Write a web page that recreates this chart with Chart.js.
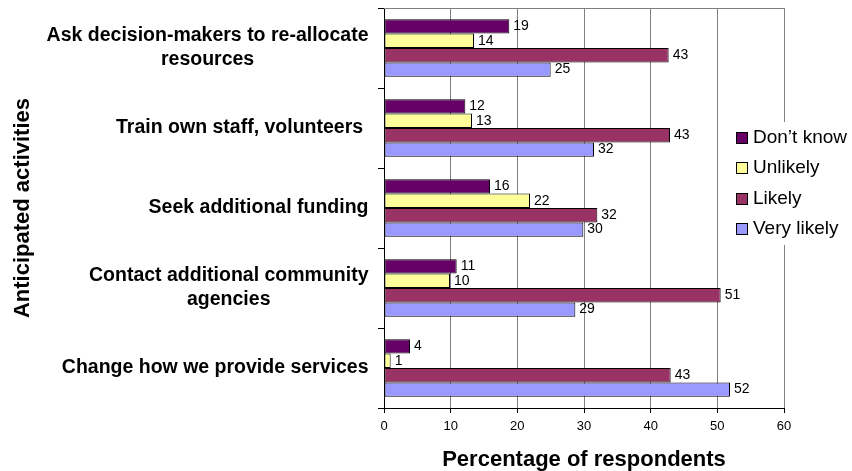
<!DOCTYPE html>
<html>
<head>
<meta charset="utf-8">
<script src="https://cdn.jsdelivr.net/npm/chart.js@4"></script>
<style>
  html, body { margin: 0; padding: 0; background: #fff; }
  canvas { display: block; }
</style>
</head>
<body>
<canvas id="chart" width="852" height="471"></canvas>
<script>
// values (bar ends, labels are rounded)
const categories = [
  ["Ask decision-makers to re-allocate", "resources"],
  ["Train own staff, volunteers "],
  ["Seek additional funding"],
  ["Contact additional community", "agencies"],
  ["Change how we provide services"]
];
const seriesNames = ["Don\u2019t know", "Unlikely", "Likely", "Very likely"];
const seriesColors = ["#660066", "#FFFF99", "#993366", "#9999FF"];
const dontKnow   = [18.8, 12.2, 15.9, 10.9, 3.9];
const unlikely   = [13.5, 13.2, 21.9, 9.9, 1.0];
const likely     = [42.7, 42.9, 32.0, 50.5, 43.0];
const veryLikely = [25.0, 31.5, 29.9, 28.7, 51.9];
const xMin = 0, xMax = 60, xStep = 10;

const FONT = "'Liberation Sans', Arial, sans-serif";

// category labels: block centred, widest line right-aligned against the axis
const catLabels = {
  id: "catLabels",
  afterDraw(chart) {
    const ctx = chart.ctx, y = chart.scales.y;
    ctx.save();
    ctx.font = "bold 19.5px " + FONT;
    ctx.fillStyle = "#000";
    ctx.textAlign = "center";
    ctx.textBaseline = "middle";
    const right = chart.chartArea.left - 15.5;
    categories.forEach((lines, i) => {
      const w = Math.max(...lines.map(l => ctx.measureText(l).width));
      const cx = right - w / 2;
      const cy = y.getPixelForValue(i);
      lines.forEach((l, j) => {
        ctx.fillText(l, cx, cy + (j - (lines.length - 1) / 2) * 24);
      });
    });
    ctx.restore();
  }
};

const valueLabels = {
  id: "valueLabels",
  afterDatasetsDraw(chart) {
    const ctx = chart.ctx;
    ctx.save();
    ctx.font = "14px " + FONT;
    ctx.fillStyle = "#000";
    ctx.textAlign = "left";
    ctx.textBaseline = "middle";
    chart.data.datasets.forEach((ds, di) => {
      chart.getDatasetMeta(di).data.forEach((bar, i) => {
        ctx.fillText(String(Math.round(ds.data[i])), bar.x + 4, bar.y);
      });
    });
    ctx.restore();
  }
};

const frame = {
  id: "frame",
  beforeDatasetsDraw(chart) {
    const { ctx, chartArea: a } = chart;
    ctx.save();
    ctx.strokeStyle = "#808080";
    ctx.lineWidth = 1;
    ctx.beginPath();
    ctx.moveTo(a.left, Math.round(a.top) + 0.5);
    ctx.lineTo(a.right, Math.round(a.top) + 0.5);
    ctx.stroke();
    ctx.restore();
  }
};

const axisTitles = {
  id: "axisTitles",
  afterDraw(chart) {
    const { ctx, chartArea: a } = chart;
    ctx.save();
    ctx.font = "bold 22px " + FONT;
    ctx.fillStyle = "#000";
    ctx.textAlign = "center";
    ctx.textBaseline = "alphabetic";
    ctx.fillText("Percentage of respondents", (a.left + a.right) / 2, 466);
    ctx.translate(29, (a.top + a.bottom) / 2);
    ctx.rotate(-Math.PI / 2);
    ctx.fillText("Anticipated activities", 0, 0);
    ctx.restore();
  }
};

// legend sits over the right of the plot on a white patch
const boxLegend = {
  id: "boxLegend",
  afterDraw(chart) {
    const ctx = chart.ctx;
    ctx.save();
    ctx.fillStyle = "#fff";
    ctx.fillRect(728, 122, 124, 123);
    ctx.font = "19px " + FONT;
    ctx.textAlign = "left";
    ctx.textBaseline = "middle";
    chart.data.datasets.forEach((ds, i) => {
      const cy = 137.5 + i * 30.5;
      ctx.fillStyle = ds.backgroundColor;
      ctx.fillRect(736, Math.round(cy - 6), 12, 12);
      ctx.strokeStyle = "#000";
      ctx.lineWidth = 1;
      ctx.strokeRect(736.5, Math.round(cy - 6) + 0.5, 11, 11);
      ctx.fillStyle = "#000";
      ctx.fillText(ds.label, 753, cy);
    });
    ctx.restore();
  }
};

const seriesData = [dontKnow, unlikely, likely, veryLikely];

new Chart(document.getElementById("chart"), {
  type: "bar",
  data: {
    labels: categories,
    datasets: seriesNames.map((name, i) => ({
      label: name,
      data: seriesData[i],
      backgroundColor: seriesColors[i],
      borderColor: "#000",
      borderWidth: 1,
      borderSkipped: false,
      barPercentage: 1,
      categoryPercentage: 0.72
    }))
  },
  options: {
    indexAxis: "y",
    responsive: false,
    animation: false,
    layout: { padding: { left: 0, right: 68, top: 8, bottom: 0 } },
    plugins: { legend: { display: false }, tooltip: { enabled: false } },
    scales: {
      x: {
        min: xMin, max: xMax,
        ticks: { stepSize: xStep, color: "#000", padding: 6, font: { family: FONT, size: 13 } },
        grid: { color: "#808080", tickColor: "#000", tickLength: 5 },
        border: { color: "#000" },
        afterFit(s) { s.height = 63; }
      },
      y: {
        ticks: { display: false },
        grid: { drawOnChartArea: false, tickColor: "#000", tickLength: 6, offset: true },
        border: { color: "#000" },
        afterFit(s) { s.width = 384; }
      }
    }
  },
  plugins: [frame, valueLabels, catLabels, axisTitles, boxLegend]
});
</script>
</body>
</html>
